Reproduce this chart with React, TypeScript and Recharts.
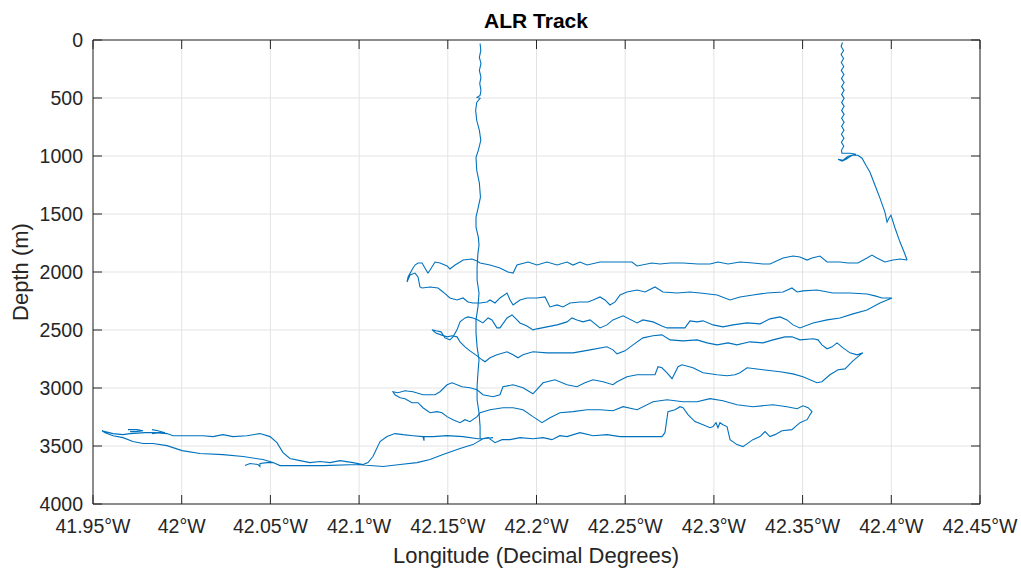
import React from 'react';
import { LineChart, Line, XAxis, YAxis, CartesianGrid } from 'recharts';

// longitude in decimal degrees west, depth in metres
const lonTicks = [41.95, 42, 42.05, 42.1, 42.15, 42.2, 42.25, 42.3, 42.35, 42.4, 42.45];
const depthTicks = [0, 500, 1000, 1500, 2000, 2500, 3000, 3500, 4000];

// first descent, straight down to the bottom of the survey
const descentEast: [number, number][] = [
  [42.1682, 30], [42.1686, 90], [42.1678, 151], [42.1687, 202], [42.1678, 262], [42.1687, 323],
  [42.168, 374], [42.1687, 434], [42.1682, 477], [42.1665, 495], [42.1682, 503], [42.1663, 538],
  [42.1657, 607], [42.1663, 692], [42.1678, 778], [42.1686, 865], [42.1672, 951], [42.1659, 1011],
  [42.1663, 1123], [42.1678, 1234], [42.1684, 1355], [42.1672, 1441], [42.1659, 1527], [42.1659, 1613],
  [42.1672, 1699], [42.1676, 1768], [42.167, 1837], [42.1665, 1957], [42.1665, 2069], [42.1676, 2181],
  [42.167, 2301], [42.1659, 2413], [42.1659, 2525], [42.1665, 2645], [42.1676, 2757], [42.167, 2869],
  [42.1665, 2989], [42.1665, 3101], [42.1676, 3213], [42.1682, 3333], [42.1682, 3437],
];

// second descent, then the run down to the start of the survey lines
const descentWest: [number, number][] = [
  [42.3725, 22], [42.3717, 56], [42.3731, 90], [42.3717, 125], [42.3731, 159], [42.3718, 194],
  [42.3732, 228], [42.3718, 262], [42.3733, 297], [42.3719, 331], [42.3734, 366], [42.372, 400],
  [42.3734, 434], [42.372, 469], [42.3734, 503], [42.372, 538], [42.3734, 572], [42.372, 607],
  [42.3734, 641], [42.372, 675], [42.3734, 710], [42.372, 744], [42.3733, 778], [42.3719, 813],
  [42.3733, 847], [42.3719, 882], [42.3732, 916], [42.3719, 951], [42.3722, 976], [42.3767, 976],
  [42.3801, 985], [42.3756, 1002], [42.3728, 1037], [42.37, 1028], [42.3722, 1045], [42.3745, 1028],
  [42.3779, 994], [42.3812, 994], [42.3835, 1019], [42.3857, 1080], [42.388, 1140], [42.3908, 1252],
  [42.3936, 1363], [42.3964, 1484], [42.3976, 1570], [42.3987, 1535], [42.3998, 1510], [42.4021, 1621],
  [42.4049, 1742], [42.4072, 1828], [42.4089, 1897],
];

// survey lines, back and forth, finishing along the bottom to the west
const surveyTrack: [number, number][] = [
  [42.4089, 1897], [42.4049, 1888], [42.401, 1897], [42.3964, 1914], [42.3919, 1880], [42.3891, 1854],
  [42.3863, 1880], [42.3812, 1923], [42.3756, 1923], [42.3711, 1914], [42.3638, 1914], [42.3598, 1862],
  [42.3553, 1880], [42.3525, 1897], [42.3485, 1871], [42.3446, 1862], [42.339, 1880], [42.3316, 1931],
  [42.3277, 1931], [42.322, 1923], [42.3147, 1914], [42.308, 1931], [42.3023, 1914], [42.2978, 1931],
  [42.291, 1931], [42.2826, 1923], [42.2753, 1923], [42.2696, 1931], [42.2651, 1923], [42.2567, 1948],
  [42.2538, 1914], [42.2454, 1914], [42.2358, 1914], [42.2285, 1940], [42.2245, 1914], [42.2206, 1940],
  [42.2172, 1914], [42.2116, 1940], [42.2059, 1914], [42.2003, 1940], [42.1952, 1914], [42.189, 1940],
  [42.1868, 2009], [42.1839, 2000], [42.1794, 1966], [42.1738, 1940], [42.1682, 1923], [42.1665, 1905],
  [42.1636, 1888], [42.1586, 1897], [42.1569, 1914], [42.1541, 1940], [42.1512, 1974], [42.1496, 1948],
  [42.1456, 1923], [42.1428, 1914], [42.14, 1983], [42.1388, 2009], [42.1371, 1966], [42.1355, 1923],
  [42.1332, 1923], [42.1315, 1940], [42.1304, 1966], [42.1276, 2043], [42.127, 2086], [42.1287, 2026],
  [42.1315, 2009], [42.1332, 2043], [42.1343, 2129], [42.1355, 2138],
  // line 2, eastward
  [42.14, 2129], [42.1445, 2138], [42.1473, 2172], [42.1512, 2224], [42.1552, 2241], [42.1586, 2224],
  [42.1614, 2258], [42.1642, 2267], [42.1682, 2267], [42.1721, 2258], [42.1738, 2241], [42.1766, 2267],
  [42.1794, 2224], [42.1834, 2181], [42.1851, 2241], [42.1868, 2284], [42.1907, 2241], [42.1946, 2224],
  [42.2003, 2224], [42.2048, 2215], [42.2076, 2301], [42.2116, 2284], [42.2149, 2301], [42.2189, 2267],
  [42.2245, 2258], [42.229, 2258], [42.2319, 2241], [42.2358, 2215], [42.2386, 2241], [42.2414, 2284],
  [42.2443, 2258], [42.2471, 2198], [42.251, 2172], [42.2567, 2155], [42.2612, 2172], [42.2668, 2129],
  [42.2713, 2172], [42.2792, 2181], [42.2865, 2172], [42.2922, 2181], [42.3018, 2198], [42.3091, 2241],
  [42.3147, 2215], [42.322, 2198], [42.3299, 2181], [42.339, 2172], [42.344, 2138], [42.3469, 2172],
  [42.3502, 2163], [42.3581, 2155], [42.3671, 2181], [42.3767, 2181], [42.3863, 2189], [42.3908, 2206],
  [42.3948, 2224], [42.4004, 2224],
  // line 3, westward
  [42.3936, 2267], [42.3863, 2327], [42.3784, 2361], [42.3711, 2396], [42.3638, 2413], [42.3559, 2439],
  [42.3485, 2482], [42.3446, 2456], [42.3412, 2413], [42.3373, 2387], [42.3316, 2404], [42.326, 2447],
  [42.3187, 2439], [42.3108, 2456], [42.3051, 2473], [42.2995, 2456], [42.2939, 2421], [42.2905, 2430],
  [42.2865, 2421], [42.2837, 2482], [42.277, 2482], [42.2736, 2482], [42.2707, 2465], [42.2657, 2430],
  [42.26, 2413], [42.2567, 2439], [42.2488, 2378], [42.2431, 2413], [42.2397, 2456], [42.2358, 2482],
  [42.2302, 2413], [42.2262, 2430], [42.2228, 2413], [42.22, 2396], [42.2172, 2430], [42.2116, 2456],
  [42.2059, 2473], [42.2003, 2490], [42.198, 2499], [42.1946, 2465], [42.1907, 2439], [42.1879, 2396],
  [42.1862, 2370], [42.1834, 2396], [42.1794, 2482], [42.1777, 2482], [42.1749, 2413], [42.1727, 2396],
  [42.1698, 2439], [42.167, 2413], [42.1642, 2396], [42.1614, 2387], [42.1597, 2396], [42.1569, 2430],
  [42.1552, 2499], [42.1529, 2559], [42.1512, 2585], [42.1484, 2568], [42.1462, 2516], [42.1433, 2507],
  [42.1411, 2499], [42.1433, 2525], [42.1462, 2542], [42.1496, 2559], [42.1524, 2550], [42.1552, 2559],
  [42.1569, 2602], [42.1597, 2645], [42.1625, 2680], [42.1665, 2723], [42.1693, 2757], [42.171, 2774],
  // line 4, eastward
  [42.1738, 2740], [42.1777, 2714], [42.1834, 2688], [42.1868, 2714], [42.1896, 2740], [42.1924, 2714],
  [42.198, 2688], [42.2059, 2697], [42.2116, 2697], [42.2206, 2697], [42.2302, 2671], [42.2397, 2645],
  [42.2431, 2671], [42.2454, 2705], [42.2499, 2680], [42.2544, 2628], [42.26, 2568], [42.2657, 2550],
  [42.2707, 2542], [42.2753, 2585], [42.2826, 2594], [42.2905, 2585], [42.2961, 2611], [42.3018, 2628],
  [42.308, 2611], [42.313, 2628], [42.3203, 2602], [42.3277, 2611], [42.3333, 2585], [42.3401, 2559],
  [42.344, 2559], [42.3485, 2585], [42.3559, 2576], [42.3587, 2585], [42.3609, 2628], [42.3638, 2662],
  [42.3666, 2645], [42.3694, 2611], [42.3728, 2654], [42.3767, 2697], [42.3807, 2714], [42.384, 2697],
  // line 5, westward
  [42.3824, 2714], [42.3784, 2766], [42.3739, 2835], [42.37, 2843], [42.3654, 2886], [42.3609, 2946],
  [42.3581, 2955], [42.3502, 2903], [42.3446, 2878], [42.3373, 2860], [42.3277, 2843], [42.3187, 2826],
  [42.3147, 2869], [42.3119, 2886], [42.3074, 2895], [42.3018, 2886], [42.2939, 2869], [42.2882, 2826],
  [42.282, 2800], [42.2798, 2817], [42.2764, 2920], [42.2736, 2869], [42.2707, 2826], [42.2685, 2817],
  [42.2668, 2886], [42.2623, 2886], [42.2567, 2886], [42.251, 2903], [42.2454, 2946], [42.2431, 2972],
  [42.2375, 2946], [42.2319, 2929], [42.2273, 2955], [42.2228, 2989], [42.2172, 2972], [42.2104, 2929],
  [42.2037, 2955], [42.198, 3050], [42.1924, 2998], [42.1868, 2972], [42.1811, 2989], [42.1794, 3058],
  [42.1755, 3075], [42.1698, 3058], [42.1665, 3015], [42.1625, 2998], [42.158, 2989], [42.1524, 2955],
  [42.1496, 2972], [42.1456, 3032], [42.1428, 3058], [42.136, 3058], [42.1304, 3032], [42.1259, 3024],
  [42.1219, 3041], [42.1191, 3032],
  // line 6, eastward
  [42.1202, 3058], [42.1231, 3084], [42.1259, 3092], [42.1298, 3127], [42.1332, 3127], [42.136, 3170],
  [42.14, 3213], [42.1439, 3204], [42.1467, 3213], [42.1496, 3247], [42.1529, 3273], [42.1569, 3299],
  [42.1597, 3273], [42.1625, 3290], [42.1665, 3247], [42.1682, 3213], [42.1738, 3187], [42.1811, 3170],
  [42.1868, 3170], [42.1924, 3187], [42.198, 3247], [42.2031, 3299], [42.2076, 3256], [42.2132, 3213],
  [42.2206, 3204], [42.2285, 3187], [42.2358, 3187], [42.2431, 3196], [42.2488, 3161], [42.2567, 3187],
  [42.2657, 3118], [42.2736, 3101], [42.2826, 3118], [42.2905, 3118], [42.2978, 3092], [42.3051, 3110],
  [42.313, 3144], [42.322, 3161], [42.3333, 3144], [42.3412, 3161], [42.3469, 3179], [42.3502, 3153],
  [42.3531, 3170], [42.3553, 3204],
  // line 7, westward over the rough ground
  [42.3525, 3273], [42.3485, 3299], [42.344, 3359], [42.3384, 3368], [42.3344, 3402], [42.3316, 3419],
  [42.3288, 3376], [42.326, 3419], [42.322, 3445], [42.3164, 3505], [42.313, 3488], [42.3091, 3445],
  [42.3074, 3333], [42.3051, 3316], [42.3034, 3299], [42.3023, 3342], [42.3012, 3299], [42.2995, 3333],
  [42.2978, 3342], [42.2939, 3316], [42.2893, 3290], [42.2854, 3230], [42.2826, 3170], [42.2809, 3161],
  [42.2781, 3187], [42.2741, 3204], [42.2724, 3385], [42.2707, 3419], [42.264, 3419], [42.2544, 3419],
  [42.2471, 3419], [42.2397, 3402], [42.2319, 3411], [42.2245, 3385], [42.2172, 3419], [42.2132, 3411],
  [42.2087, 3445], [42.2037, 3428], [42.198, 3437], [42.1907, 3428], [42.1851, 3445], [42.1806, 3445],
  [42.1766, 3471], [42.1727, 3428], [42.1693, 3437], [42.167, 3437], [42.1586, 3419], [42.1496, 3411],
  [42.1417, 3419], [42.1366, 3419], [42.1366, 3454], [42.136, 3419], [42.1304, 3411], [42.1248, 3402],
  [42.1202, 3393], [42.1157, 3419], [42.1118, 3462], [42.1078, 3591], [42.105, 3643], [42.1022, 3660],
  // bottom run west
  [42.0966, 3643], [42.0892, 3626], [42.0836, 3643], [42.078, 3634], [42.0723, 3643], [42.0667, 3626],
  [42.061, 3608], [42.0571, 3557], [42.0537, 3471], [42.0498, 3419], [42.0441, 3393], [42.0368, 3411],
  [42.0289, 3419], [42.0233, 3402], [42.0176, 3419], [42.012, 3411], [42.0047, 3411], [41.9951, 3411],
  [41.9917, 3393], [41.9861, 3385], [41.9793, 3385], [41.9709, 3393], [41.9669, 3402], [41.9613, 3393],
  [41.9568, 3376], [41.9551, 3368],
  // and back east, deeper
  [41.9568, 3385], [41.9613, 3411], [41.9669, 3428], [41.9725, 3462], [41.9782, 3479], [41.9838, 3479],
  [41.9917, 3497], [42.0002, 3540], [42.0103, 3565], [42.0233, 3574], [42.0346, 3591], [42.0458, 3617],
  [42.0515, 3643], [42.0554, 3669], [42.065, 3669], [42.0797, 3669], [42.0988, 3660], [42.1135, 3677],
  [42.1231, 3660], [42.1326, 3643], [42.14, 3617], [42.1473, 3574], [42.1569, 3522], [42.1642, 3488],
  [42.1698, 3437], [42.1755, 3428],
];

// short excursions near the bottom
const loopA: [number, number][] = [
  [41.9697, 3359], [41.9748, 3359], [41.9782, 3368], [41.9742, 3376], [41.9709, 3376],
];
const loopB: [number, number][] = [
  [41.9833, 3359], [41.9866, 3368], [41.9906, 3385], [41.9866, 3385], [41.9833, 3393],
];
const loopC: [number, number][] = [
  [42.0357, 3669], [42.0385, 3651], [42.043, 3660], [42.0441, 3677], [42.0441, 3651], [42.0481, 3643],
  [42.0515, 3643],
];

const segments = [descentEast, descentWest, surveyTrack, loopA, loopB, loopC];

const toPoints = (seg: [number, number][]) => seg.map(([lon, depth]) => ({ lon, depth }));

const FONT = '"Liberation Sans", Arial, Helvetica, sans-serif';
const INK = '#262626';
const TRACK = '#0072bd';
const TICK_LEN = 9;
const TICK_FONT = 19.5;
const X_GAP = 15;
const Y_GAP = 10;

// ticks point into the plot box, like matlab
const BottomTick = (props: any) => {
  const { x, y, payload } = props;
  const axisY = y - X_GAP;
  return (
    <g>
      <line x1={x} x2={x} y1={axisY} y2={axisY - TICK_LEN} stroke={INK} />
      <text x={x} y={y} dy="0.71em" textAnchor="middle" fill={INK} fontSize={TICK_FONT} fontFamily={FONT}>
        {`${payload.value}°W`}
      </text>
    </g>
  );
};

const LeftTick = (props: any) => {
  const { x, y, payload } = props;
  const axisX = x + Y_GAP;
  return (
    <g>
      <line x1={axisX} x2={axisX + TICK_LEN} y1={y} y2={y} stroke={INK} />
      <text x={x} y={y} dy="0.355em" textAnchor="end" fill={INK} fontSize={TICK_FONT} fontFamily={FONT}>
        {payload.value}
      </text>
    </g>
  );
};

const TopTick = (props: any) => {
  const { x, y } = props;
  return <line x1={x} x2={x} y1={y} y2={y + TICK_LEN} stroke={INK} />;
};

const RightTick = (props: any) => {
  const { x, y } = props;
  return <line x1={x} x2={x - TICK_LEN} y1={y} y2={y} stroke={INK} />;
};

const App: React.FC = () => {
  return (
    <div
      style={{
        position: 'absolute',
        left: 0,
        top: 0,
        width: 1021,
        height: 569,
        background: '#fff',
        fontFamily: FONT,
        color: '#000',
      }}
    >
      <LineChart
        width={1021}
        height={569}
        margin={{ top: 39, right: 40, bottom: 0, left: 0 }}
        style={{ fontFamily: FONT }}
      >
        <CartesianGrid stroke="#e3e3e3" strokeWidth={1} />
        <XAxis
          type="number"
          dataKey="lon"
          domain={[41.95, 42.45]}
          ticks={lonTicks}
          allowDataOverflow
          height={65}
          tickSize={0}
          tickMargin={X_GAP}
          tick={<BottomTick />}
          tickLine={false}
          axisLine={{ stroke: INK }}
          interval={0}
        />
        <XAxis
          xAxisId="top"
          orientation="top"
          type="number"
          dataKey="lon"
          domain={[41.95, 42.45]}
          ticks={lonTicks}
          allowDataOverflow
          height={1}
          tickSize={0}
          tickMargin={0}
          tick={<TopTick />}
          tickLine={false}
          axisLine={{ stroke: INK }}
          interval={0}
        />
        <YAxis
          type="number"
          dataKey="depth"
          domain={[0, 4000]}
          ticks={depthTicks}
          reversed
          allowDataOverflow
          width={93}
          tickSize={0}
          tickMargin={Y_GAP}
          tick={<LeftTick />}
          tickLine={false}
          axisLine={{ stroke: INK }}
          interval={0}
        />
        <YAxis
          yAxisId="right"
          orientation="right"
          type="number"
          domain={[0, 4000]}
          ticks={depthTicks}
          reversed
          allowDataOverflow
          width={1}
          tickSize={0}
          tickMargin={0}
          tick={<RightTick />}
          tickLine={false}
          axisLine={{ stroke: INK }}
          interval={0}
        />
        {segments.map((seg, i) => (
          <Line
            key={i}
            data={toPoints(seg)}
            dataKey="depth"
            type="linear"
            stroke={TRACK}
            strokeWidth={1.1}
            dot={false}
            activeDot={false}
            isAnimationActive={false}
          />
        ))}
      </LineChart>

      <div
        style={{
          position: 'absolute',
          left: 236,
          width: 600,
          top: 10,
          textAlign: 'center',
          fontSize: 21,
          lineHeight: '21px',
          fontWeight: 'bold',
        }}
      >
        ALR Track
      </div>
      <div
        style={{
          position: 'absolute',
          left: 236,
          width: 600,
          top: 545,
          textAlign: 'center',
          fontSize: 22,
          lineHeight: '22px',
          color: INK,
        }}
      >
        Longitude (Decimal Degrees)
      </div>
      <div
        style={{
          position: 'absolute',
          left: 21 - 100,
          width: 200,
          top: 272 - 11,
          textAlign: 'center',
          fontSize: 22,
          lineHeight: '22px',
          color: INK,
          transform: 'rotate(-90deg)',
        }}
      >
        Depth (m)
      </div>
    </div>
  );
};

export default App;
